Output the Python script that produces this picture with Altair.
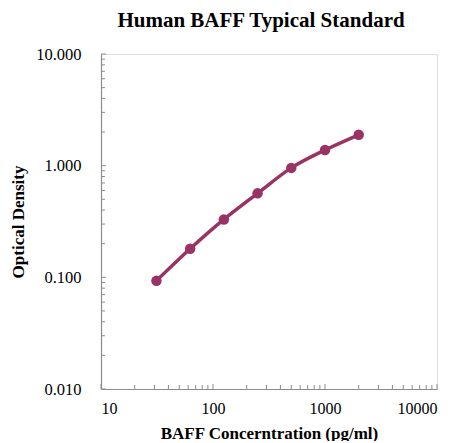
import altair as alt
import pandas as pd

conc = [31.25, 62.5, 125, 250, 500, 1000, 2000]
od = [0.093, 0.180, 0.330, 0.565, 0.955, 1.38, 1.89]

x_major = [10, 100, 1000, 10000]
y_major = [0.01, 0.1, 1, 10]
x_minor = [m * d for d in [10, 100, 1000] for m in range(2, 10)]
y_minor = [m * d for d in [0.01, 0.1, 1] for m in range(2, 10)]

df = pd.DataFrame({"conc": conc, "od": od})
xmin = pd.DataFrame({"v": x_minor})
ymin = pd.DataFrame({"v": y_minor})
xmaj = pd.DataFrame({"v": x_major})
ymaj = pd.DataFrame({"v": y_major})

color = "#993366"
axis_gray = "#8c8c8c"
font = "Liberation Serif"

xscale = alt.Scale(type="log", domain=[10, 10000])
yscale = alt.Scale(type="log", domain=[0.01, 10])

base = alt.Chart(df)

line = base.mark_line(color=color, strokeWidth=3.5, interpolate="monotone").encode(
    x=alt.X("conc:Q", scale=xscale,
            axis=alt.Axis(values=x_major, format="d", title="BAFF Concerntration (pg/ml)",
                          grid=False, ticks=False, domainColor=axis_gray, domainWidth=1.2,
                          labelFont=font, labelFontSize=16, labelColor="black", labelPadding=11,
                          titleFont=font, titleFontSize=17, titleFontWeight="bold",
                          titleColor="black", titlePadding=9)),
    y=alt.Y("od:Q", scale=yscale,
            axis=alt.Axis(values=y_major, format=".3f", title="Optical Density",
                          grid=False, ticks=False, domainColor=axis_gray, domainWidth=1.2,
                          labelFont=font, labelFontSize=16.5, labelColor="black", labelPadding=20,
                          titleFont=font, titleFontSize=17, titleFontWeight="bold",
                          titleColor="black", titlePadding=8)),
)
pts = base.mark_circle(color=color, size=110, opacity=1).encode(
    x=alt.X("conc:Q", scale=xscale), y=alt.Y("od:Q", scale=yscale))

xminor = alt.Chart(xmin).mark_rule(color=axis_gray, strokeWidth=1).encode(
    x=alt.X("v:Q", scale=xscale), y=alt.value(335), y2=alt.value(331))
yminor = alt.Chart(ymin).mark_rule(color=axis_gray, strokeWidth=1).encode(
    y=alt.Y("v:Q", scale=yscale), x=alt.value(0), x2=alt.value(4))
xmajor = alt.Chart(xmaj).mark_rule(color=axis_gray, strokeWidth=1).encode(
    x=alt.X("v:Q", scale=xscale), y=alt.value(335), y2=alt.value(330))
ymajor = alt.Chart(ymaj).mark_rule(color=axis_gray, strokeWidth=1).encode(
    y=alt.Y("v:Q", scale=yscale), x=alt.value(0), x2=alt.value(5))

chart = alt.layer(xminor, yminor, xmajor, ymajor, line, pts).properties(
    width=336, height=335,
    title=alt.TitleParams("Human BAFF Typical Standard", font=font, fontSize=21,
                          fontWeight="bold", color="black", anchor="middle", offset=15, dx=-8),
    autosize=alt.AutoSizeParams(type="none"),
    padding={"left": 93, "top": 46, "right": 14, "bottom": 52},
).configure_view(stroke=None).configure(background="white")

chart.save("out.html", embed_options={"renderer": "svg", "actions": False})
